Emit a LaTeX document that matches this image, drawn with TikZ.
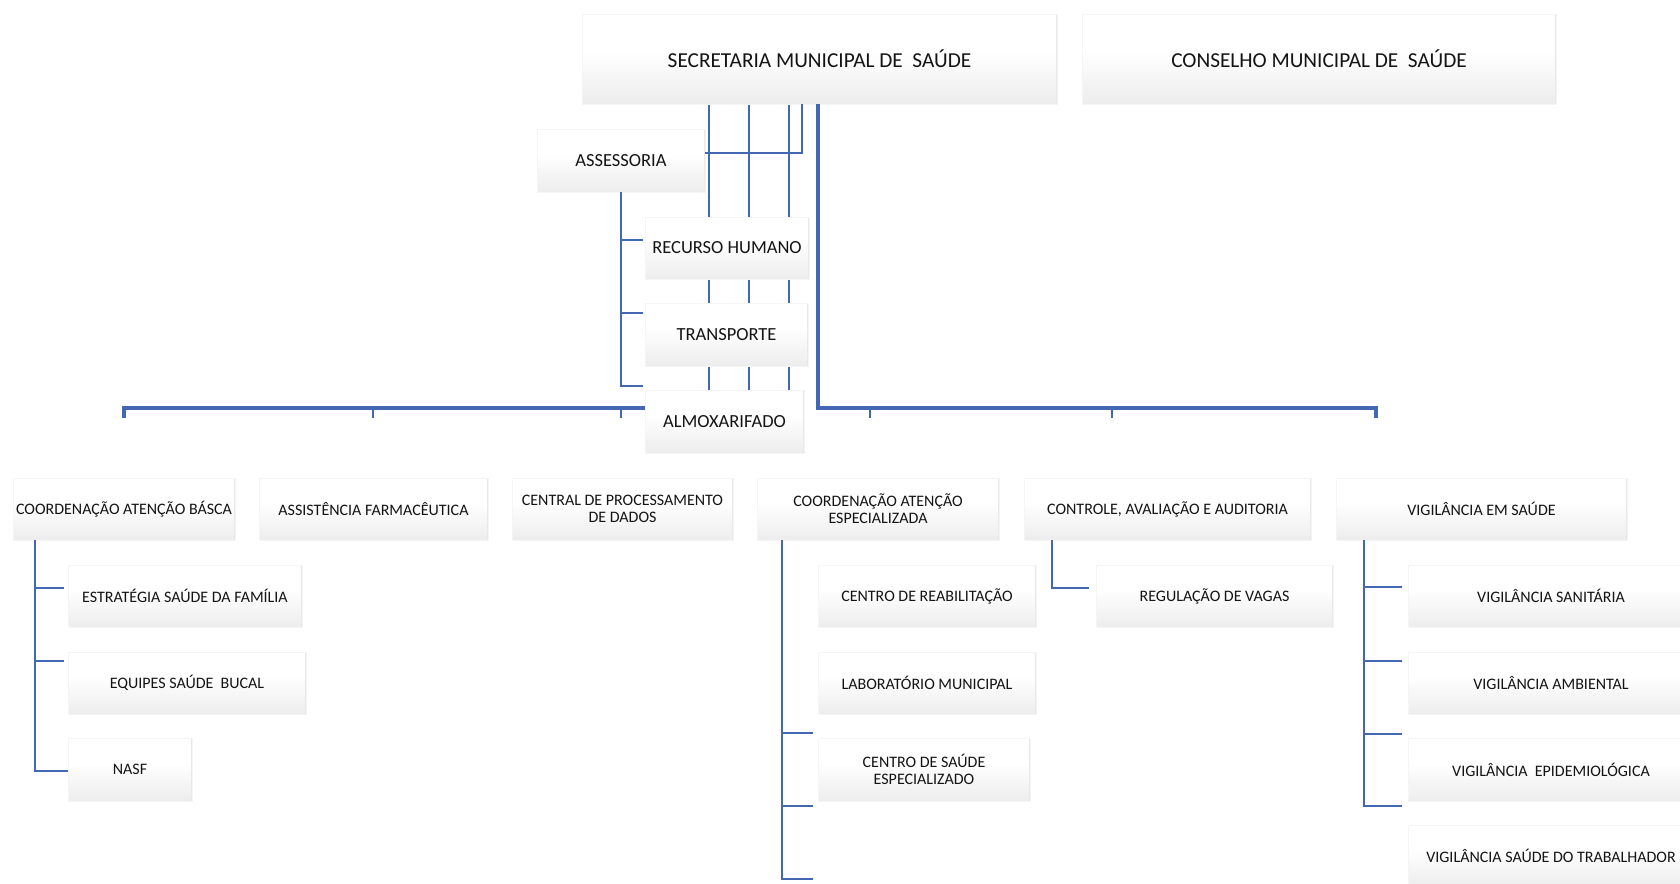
\documentclass[tikz,border=0pt]{standalone}
\usepackage{fontspec}
\setmainfont{Carlito}
\usetikzlibrary{backgrounds}
\definecolor{lineblue}{RGB}{66,104,180}
\definecolor{txt}{RGB}{20,20,20}
\pgfdeclareverticalshading{bevel}{100bp}{color(0bp)=(black!15); color(4bp)=(black!12); color(30bp)=(black!6); color(55bp)=(white); color(100bp)=(white)}
\begin{document}
\begin{tikzpicture}[x=1pt,y=-1pt,
  box/.style={shade, shading=bevel, draw=black!4, line width=0.6pt, inner sep=0pt, align=center, text=txt,
    path picture={
      \draw[black!9, line width=2pt] (path picture bounding box.north east) -- (path picture bounding box.south east);
      \draw[black!5, line width=2pt] (path picture bounding box.north west) -- (path picture bounding box.south west);}},
  bigtxt/.style={font=\fontsize{21.3}{24}\selectfont},
  midtxt/.style={font=\fontsize{18.5}{21}\selectfont},
  smalltxt/.style={font=\fontsize{16}{17}\selectfont},
  conn/.style={draw=lineblue, line width=2.7pt},
  mainconn/.style={draw=lineblue, line width=3.5pt}]
\useasboundingbox (0,0) rectangle (1680,883);
\clip (0,0) rectangle (1680,883);

% top level
\node[box,bigtxt,minimum width=475pt,minimum height=90pt] (sec) at (819.5,59) {SECRETARIA MUNICIPAL DE \ SAÚDE};
\node[box,bigtxt,minimum width=474pt,minimum height=90pt] (cons) at (1319,59) {CONSELHO MUNICIPAL DE \ SAÚDE};

% staff
\node[box,midtxt,minimum width=168pt,minimum height=63pt] (ass) at (621,160.5) {ASSESSORIA};
\node[box,midtxt,minimum width=164pt,minimum height=62pt] (rh) at (727,248) {RECURSO HUMANO};
\node[box,midtxt,minimum width=163pt,minimum height=63pt] (tr) at (726.5,334.5) {TRANSPORTE};
\node[box,midtxt,minimum width=159pt,minimum height=63pt] (alm) at (724.5,421.5) {ALMOXARIFADO};

% second level
\node[box,smalltxt,minimum width=222pt,minimum height=62pt] (cab) at (124,509) {COORDENAÇÃO ATENÇÃO BÁSCA};
\node[box,smalltxt,minimum width=229pt,minimum height=62pt] (af) at (373.5,509) {ASSISTÊNCIA FARMACÊUTICA};
\node[box,smalltxt,minimum width=221pt,minimum height=62pt] (cpd) at (622.5,509) {CENTRAL DE PROCESSAMENTO\\DE DADOS};
\node[box,smalltxt,minimum width=242pt,minimum height=62pt] (cae) at (878,509) {COORDENAÇÃO ATENÇÃO\\ESPECIALIZADA};
\node[box,smalltxt,minimum width=287pt,minimum height=62pt] (caa) at (1167.5,509) {CONTROLE, AVALIAÇÃO E AUDITORIA};
\node[box,smalltxt,minimum width=291pt,minimum height=62pt] (vs) at (1481.5,509) {VIGILÂNCIA EM SAÚDE};

% third level
\node[box,smalltxt,minimum width=234pt,minimum height=62pt] (esf) at (185,596) {ESTRATÉGIA SAÚDE DA FAMÍLIA};
\node[box,smalltxt,minimum width=238pt,minimum height=62pt] (esb) at (187,683) {EQUIPES SAÚDE \ BUCAL};
\node[box,smalltxt,minimum width=124pt,minimum height=63pt] (nasf) at (130,769.5) {NASF};
\node[box,smalltxt,minimum width=218pt,minimum height=62pt] (cr) at (927,596) {CENTRO DE REABILITAÇÃO};
\node[box,smalltxt,minimum width=218pt,minimum height=62pt] (lab) at (927,683) {LABORATÓRIO MUNICIPAL};
\node[box,smalltxt,minimum width=212pt,minimum height=63pt] (cse) at (924,769.5) {CENTRO DE SAÚDE\\ESPECIALIZADO};
\node[box,smalltxt,minimum width=237pt,minimum height=62pt] (rv) at (1214.5,596) {REGULAÇÃO DE VAGAS};
\node[box,smalltxt,minimum width=286pt,minimum height=62pt] (visa) at (1551,596) {VIGILÂNCIA SANITÁRIA};
\node[box,smalltxt,minimum width=286pt,minimum height=62pt] (viam) at (1551,683) {VIGILÂNCIA AMBIENTAL};
\node[box,smalltxt,minimum width=286pt,minimum height=63pt] (viep) at (1551,769.5) {VIGILÂNCIA \ EPIDEMIOLÓGICA};
\node[box,smalltxt,minimum width=286pt,minimum height=62pt] (vist) at (1551,856) {VIGILÂNCIA SAÚDE DO TRABALHADOR};

% connectors behind the staff boxes
\begin{pgfonlayer}{background}
\foreach \x in {709,749,789} \draw[conn] (sec.south -| \x,0) -- (alm.north -| \x,0);
\end{pgfonlayer}

% assessoria
\draw[conn] (sec.south -| 802,0) |- (ass.east |- 0,153);
\draw[conn] (ass.south) -- (ass.south |- 0,386) -- (643,386);
\draw[conn] (ass.south |- 0,240) -- (643,240);
\draw[conn] (ass.south |- 0,313) -- (643,313);

% main bus
\draw[mainconn] (sec.south -| 818,0) |- (1376,408) -- (1376,418);
\draw[mainconn] (alm.west |- 0,408) -- (124,408) -- (124,418);
\foreach \x in {373,621,870,1112} \draw[conn] (\x,408) -- (\x,418);

% coordenacao atencao basica
\draw[conn] (cab.south -| 35,0) -- (35,771) -- (nasf.west |- 0,771);
\draw[conn] (35,588) -- (64,588);
\draw[conn] (35,661) -- (64,661);

% coordenacao atencao especializada
\draw[conn] (cae.south -| 782,0) -- (782,879) -- (813,879);
\draw[conn] (782,733) -- (813,733);
\draw[conn] (782,806) -- (813,806);

% controle
\draw[conn] (caa.south -| 1052,0) |- (1089,588);

% vigilancia
\draw[conn] (vs.south -| 1364,0) -- (1364,806) -- (1402,806);
\foreach \y in {587,661,734} \draw[conn] (1364,\y) -- (1402,\y);
\end{tikzpicture}
\end{document}
